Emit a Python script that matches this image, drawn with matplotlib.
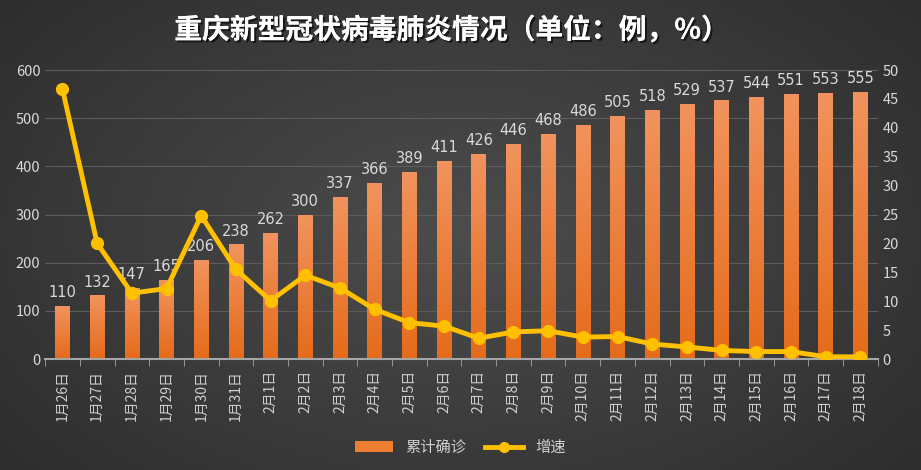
import numpy as np
import matplotlib.pyplot as plt
import matplotlib.patheffects as pe
from matplotlib.lines import Line2D
from matplotlib.patches import Patch

plt.rcParams['font.family'] = ['Noto Sans CJK SC', 'DejaVu Sans']

dates = ['1月26日', '1月27日', '1月28日', '1月29日', '1月30日', '1月31日',
         '2月1日', '2月2日', '2月3日', '2月4日', '2月5日', '2月6日',
         '2月7日', '2月8日', '2月9日', '2月10日', '2月11日', '2月12日',
         '2月13日', '2月14日', '2月15日', '2月16日', '2月17日', '2月18日']
total = [110, 132, 147, 165, 206, 238, 262, 300, 337, 366, 389, 411,
         426, 446, 468, 486, 505, 518, 529, 537, 544, 551, 553, 555]
growth = [46.7, 20.0, 11.4, 12.2, 24.8, 15.5, 10.1, 14.5, 12.3, 8.6, 6.3, 5.7,
          3.6, 4.7, 4.9, 3.8, 3.9, 2.6, 2.1, 1.5, 1.3, 1.3, 0.4, 0.4]

fig = plt.figure(figsize=(9.21, 4.70), dpi=100)

# dark radial background
bg = fig.add_axes([0, 0, 1, 1], zorder=-10)
yy, xx = np.mgrid[0:1:200j, 0:1:400j]
r = np.sqrt(((xx - 0.5) / 0.75) ** 2 + ((yy - 0.5) / 0.9) ** 2)
shade = 0.30 - 0.14 * np.clip(r, 0, 1)
bg.imshow(np.dstack([shade] * 3), aspect='auto', extent=[0, 1, 0, 1])
bg.axis('off')

ax = fig.add_axes([0.049, 0.236, 0.904, 0.615])
ax.patch.set_alpha(0)
x = np.arange(len(dates))
bars = ax.bar(x, total, width=0.42, color='#ED7D31', zorder=2)

# vertical orange gradient inside each bar
grad = np.linspace(0, 1, 100).reshape(-1, 1)
top_c = np.array([0xF2, 0x93, 0x5E]) / 255
bot_c = np.array([0xE5, 0x6B, 0x1A]) / 255
img = top_c * (1 - grad[..., None]) + bot_c * grad[..., None]
for b in bars:
    bx, by, bw, bh = b.get_x(), b.get_y(), b.get_width(), b.get_height()
    im = ax.imshow(img, extent=[bx, bx + bw, by, by + bh], aspect='auto', zorder=2.5)
    im.set_clip_path(b)

for xi, v in zip(x, total):
    ax.text(xi, v + 12, str(v), ha='center', va='bottom', color='#d9d9d9',
            fontsize=10.5, family='DejaVu Sans', zorder=5)

ax.set_xlim(-0.5, len(dates) - 0.5)
ax.set_ylim(0, 600)
ax.set_yticks(range(0, 601, 100))
ax.grid(axis='y', color='#5c5c5c', linewidth=0.8, zorder=0)
ax.set_axisbelow(True)
ax.set_xticks(x)
ax.set_xticklabels(dates, rotation=90, color='#cfcfcf', fontsize=10)
ax.set_xticks(np.arange(-0.5, len(dates), 1), minor=True)
ax.tick_params(axis='x', which='major', length=0, pad=8)
ax.tick_params(axis='x', which='minor', length=5, color='#a6a6a6')
ax.tick_params(axis='y', length=0, colors='#d9d9d9', labelsize=10.5)
for s in ['top', 'right', 'left']:
    ax.spines[s].set_visible(False)
ax.spines['bottom'].set_color('#a6a6a6')
ax.spines['bottom'].set_linewidth(1.5)

ax2 = ax.twinx()
ax2.plot(x, growth, color='#FFC000', linewidth=3.5, marker='o', markersize=8.5, zorder=6)
ax2.set_ylim(0, 50)
ax2.set_yticks(range(0, 51, 5))
ax2.tick_params(axis='y', length=0, colors='#d9d9d9', labelsize=10.5)
for s in ax2.spines.values():
    s.set_visible(False)

fig.text(0.49, 0.935, '重庆新型冠状病毒肺炎情况（单位：例，%）', ha='center', va='center',
         color='white', fontsize=20, fontweight='bold',
         path_effects=[pe.withSimplePatchShadow(offset=(1.5, -1.5), shadow_rgbFace='black', alpha=0.6),
                       pe.Normal()])

handles = [Patch(facecolor='#ED7D31', edgecolor='none'),
           Line2D([0], [0], color='#FFC000', linewidth=3.5, marker='o', markersize=7)]
leg = fig.legend(handles, ['累计确诊', '增速'], loc='center', bbox_to_anchor=(0.5, 0.048),
                 ncol=2, frameon=False, fontsize=11, handlelength=2.5, columnspacing=1.2)
for t in leg.get_texts():
    t.set_color('#cfcfcf')

fig.savefig('out.png', dpi=100)
